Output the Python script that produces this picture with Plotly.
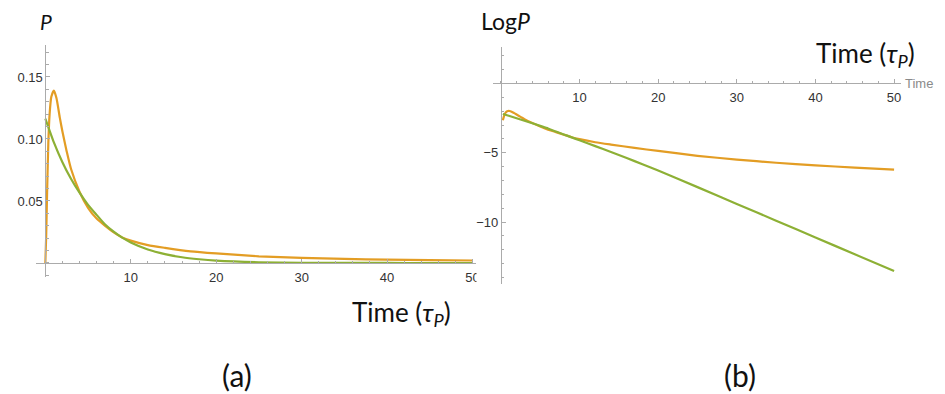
import plotly.graph_objects as go

# ---------------- data ----------------
# Panel (a): P versus time
t_orange = [0, 0.1, 0.2, 0.35, 0.5, 0.7, 1.0, 1.3, 1.7, 2.0, 2.5, 3, 4, 5, 6, 7, 8, 9, 10,
            12, 14, 17, 20, 25, 30, 35, 40, 45, 50]
p_orange = [0, 0.022, 0.055, 0.097, 0.12, 0.134, 0.139, 0.133, 0.117, 0.106, 0.09, 0.076,
            0.0575, 0.0445, 0.0358, 0.0299, 0.0247, 0.0206, 0.018, 0.0144, 0.0122, 0.0094,
            0.0077, 0.0054, 0.0041, 0.0033, 0.0027, 0.0023, 0.002]

t_green = [0, 1, 2, 3, 4, 5, 6, 7, 8, 9, 10, 12, 14, 16, 18, 20, 25, 30, 35, 40, 45, 50]
p_green = [0.1165, 0.0973, 0.0813, 0.0679, 0.0567, 0.0469, 0.0388, 0.031, 0.0252, 0.0204,
           0.0166, 0.0109, 0.0072, 0.0046, 0.003, 0.0019, 0.0006, 0.0002, 0.00005, 0.00002,
           0.0, 0.0]

# Panel (b): Log P versus time
t_log_orange = [0.25, 0.4, 0.6, 0.8, 1.0, 1.3, 1.7, 2, 2.5, 3, 4, 5, 6, 7, 8, 9, 10, 12, 14,
                17, 20, 25, 30, 35, 40, 45, 50]
log_orange = [-2.65, -2.35, -2.1, -2.0, -1.97, -2.02, -2.14, -2.24, -2.41, -2.58, -2.86,
              -3.11, -3.33, -3.51, -3.70, -3.88, -4.02, -4.24, -4.41, -4.65, -4.87, -5.22,
              -5.49, -5.72, -5.91, -6.07, -6.22]

t_log_green = [0.25, 1, 2, 3, 4, 5, 6, 7, 8, 9, 10, 12, 14, 16, 18, 20, 25, 30, 35, 40, 45, 50]
log_green = [-2.2, -2.33, -2.51, -2.69, -2.87, -3.06, -3.25, -3.47, -3.68, -3.89, -4.10,
             -4.52, -4.94, -5.38, -5.83, -6.28, -7.48, -8.69, -9.90, -11.11, -12.33, -13.54]

x_ticks = [10, 20, 30, 40, 50]
y_ticks_a = [0.05, 0.10, 0.15]
y_ticklabels_a = ["0.05", "0.10", "0.15"]
y_ticks_b = [-5, -10]

# ---------------- styling ----------------
PAGE_W, PAGE_H = 945, 394
OFF = 8                      # default body margin of the html page
W, H = PAGE_W - OFF, PAGE_H - OFF
ORANGE = "#E39D24"
GREEN = "#8DB035"
AXC = "#ababab"
LBL = "#333333"
TICKFONT = dict(family="Liberation Sans, Arial", size=13, color=LBL)
TXTFONT = "Lato, Noto Sans, sans-serif"


def px_x(p):
    return (p - OFF) / W


def px_y(p):
    return 1 - (p - OFF) / H


fig = go.Figure()
line_kw = dict(shape="spline", smoothing=0.6, width=2.2)
fig.add_trace(go.Scatter(x=t_orange, y=p_orange, mode="lines",
                         line=dict(color=ORANGE, **line_kw), xaxis="x", yaxis="y"))
fig.add_trace(go.Scatter(x=t_green, y=p_green, mode="lines",
                         line=dict(color=GREEN, **line_kw), xaxis="x", yaxis="y"))
fig.add_trace(go.Scatter(x=t_log_orange, y=log_orange, mode="lines",
                         line=dict(color=ORANGE, **line_kw), xaxis="x2", yaxis="y2"))
fig.add_trace(go.Scatter(x=t_log_green, y=log_green, mode="lines",
                         line=dict(color=GREEN, **line_kw), xaxis="x2", yaxis="y2"))

common = dict(showgrid=False, zeroline=False, showline=True, linecolor=AXC, linewidth=1,
              ticks="inside", ticklen=4, tickcolor=AXC, tickwidth=1, tickfont=TICKFONT,
              fixedrange=True)

# panel (a) geometry (pixels in the page)
a_x0, a_x1 = 36, 478
a_y0, a_y1 = 45, 277
a_xr = [-1.107, 50.41]
a_yr = [-0.0113, 0.1758]
a_zero_py = 263
a_zero_px = 45.5

# panel (b) geometry (pixels in the page)
b_x0, b_x1 = 495, 905
b_y0, b_y1 = 47, 284
b_xr = [-1.01, 50.9]
b_yr = [-14.47, 2.63]
b_zero_py = 83.4
b_zero_px = 503

fig.update_layout(
    width=W, height=H, margin=dict(l=0, r=0, t=0, b=0),
    paper_bgcolor="white", plot_bgcolor="white", showlegend=False,
    xaxis=dict(domain=[px_x(a_x0), px_x(a_x1)], range=a_xr, anchor="free",
               position=px_y(a_zero_py), tickmode="array", tickvals=x_ticks,
               ticklabelstandoff=2,
               minor=dict(tickmode="linear", tick0=0, dtick=2, ticks="inside",
                          ticklen=2.5, tickcolor=AXC, showgrid=False),
               **common),
    yaxis=dict(domain=[px_y(a_y1), px_y(a_y0)], range=a_yr, anchor="free",
               position=px_x(a_zero_px), tickmode="array", tickvals=y_ticks_a,
               ticktext=y_ticklabels_a,
               minor=dict(tickmode="linear", tick0=0, dtick=0.01, ticks="inside",
                          ticklen=2.5, tickcolor=AXC, showgrid=False),
               **common),
    xaxis2=dict(domain=[px_x(b_x0), px_x(b_x1)], range=b_xr, anchor="free",
                position=px_y(b_zero_py), tickmode="array", tickvals=x_ticks,
                ticklabelstandoff=2,
                minor=dict(tickmode="linear", tick0=0, dtick=2, ticks="inside",
                           ticklen=2.5, tickcolor=AXC, showgrid=False),
                **common),
    yaxis2=dict(domain=[px_y(b_y1), px_y(b_y0)], range=b_yr, anchor="free",
                position=px_x(b_zero_px), tickmode="array", tickvals=y_ticks_b,
                minor=dict(tickmode="linear", tick0=0, dtick=1, ticks="inside",
                           ticklen=2.5, tickcolor=AXC, showgrid=False),
                **common),
)

# white strip that cuts the "50" label on the right edge of panel (a)
fig.add_shape(type="rect", xref="paper", yref="paper", layer="above",
              x0=px_x(478.5), x1=px_x(488), y0=px_y(287), y1=px_y(265),
              line=dict(width=0), fillcolor="white")


def ann(text, x, y, size, color="#111111", xanchor="center", family=TXTFONT):
    fig.add_annotation(text=text, x=px_x(x), y=px_y(y), xref="paper", yref="paper",
                       showarrow=False, xanchor=xanchor, yanchor="middle",
                       font=dict(family=family, size=size, color=color))


ann("<i>P</i>", 46, 21, 21)
ann("Log<i>P</i>", 481, 21, 23, xanchor="left")
ann("Time (<i>τ</i><sub><i>P</i></sub>)", 403, 313, 26)
ann("Time (<i>τ</i><sub><i>P</i></sub>)", 869, 55, 26)
ann("Time", 907, 83, 13, color="#8a8a8a", xanchor="left", family="Liberation Sans, Arial")
ann("(a)", 238, 375, 30)
ann("(b)", 743, 375, 30)

fig.write_html("out.html")
